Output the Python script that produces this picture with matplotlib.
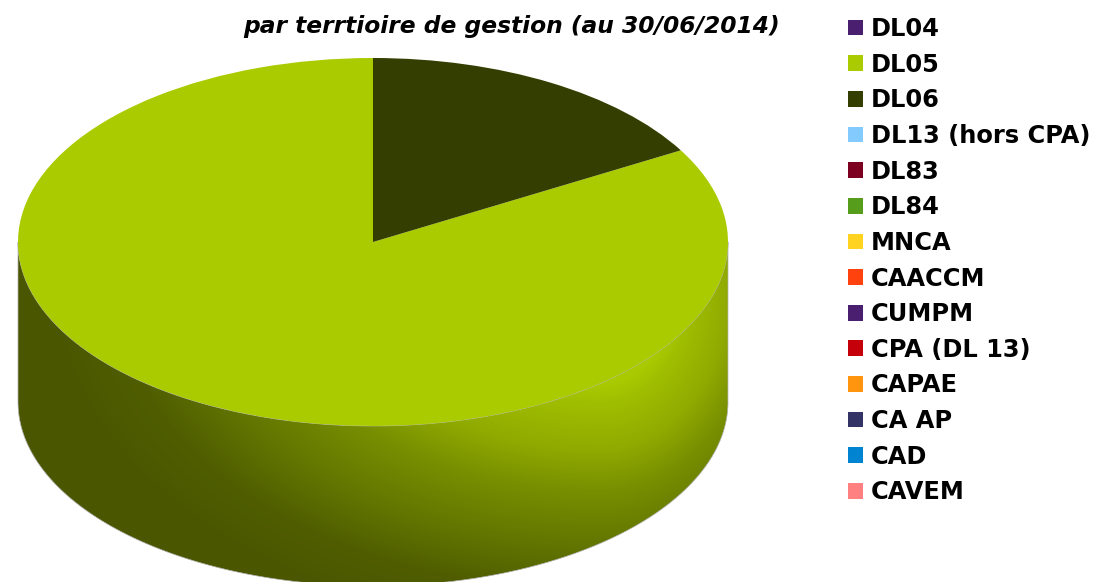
import numpy as np
from matplotlib import pyplot as plt
from matplotlib.patches import Patch, PathPatch
from matplotlib.path import Path

W, H = 1097, 582

title = "par terrtioire de gestion (au 30/06/2014)"
categories = ["DL04", "DL05", "DL06", "DL13 (hors CPA)", "DL83", "DL84", "MNCA",
              "CAACCM", "CUMPM", "CPA (DL 13)", "CAPAE", "CA AP", "CAD", "CAVEM"]
values = [0, 83.3, 16.7, 0, 0, 0, 0, 0, 0, 0, 0, 0, 0, 0]
colors = ["#4b1f6f", "#aacb00", "#333e00", "#83caff", "#7e0021", "#579d1c", "#ffd320",
          "#ff420e", "#4b1f6f", "#c5000b", "#ff950e", "#333366", "#0084d1", "#ff8080"]

# pie geometry in pixels
cx, cy, rx, ry = 373, 242, 355, 184
depth = 160 / ry

fig = plt.figure(figsize=(W / 100, H / 100), dpi=100)
ax = fig.add_axes([0, 0, 1, 1])

# top of the pie
wedges, _ = ax.pie(values, colors=colors, startangle=90, counterclock=True,
                   radius=1, wedgeprops={"linewidth": 0})

# side wall: lower half of the ellipse pushed down by depth
t = np.linspace(np.pi, 2 * np.pi, 200)
top = np.column_stack([np.cos(t), np.sin(t)])
bot = np.column_stack([np.cos(t[::-1]), np.sin(t[::-1]) - depth])
wall_path = Path(np.vstack([top, bot, top[:1]]))

xmin, xmax = -cx / rx, (W - cx) / rx
ymin, ymax = (cy - H) / ry, cy / ry

# light on the lower right of the wall, falls off faster downwards and to the right
px, py = np.meshgrid(np.arange(W), np.arange(H))
dx = px - 600.0
dx[dx > 0] *= 2
dist = np.hypot(dx, (py - 290) * 1.6)
stops = [0, 150, 180, 256, 320, 400, 480, 560]
red = [170, 169, 160, 144, 120, 100, 80, 74]
green = [203, 202, 190, 170, 143, 120, 94, 86]
shade = np.dstack([np.interp(dist, stops, red), np.interp(dist, stops, green),
                   np.zeros_like(dist)]) / 255
wall = ax.imshow(shade, extent=(xmin, xmax, ymin, ymax), origin="upper",
                 aspect="auto", zorder=0, interpolation="bilinear")
wall_patch = PathPatch(wall_path, transform=ax.transData, fc="none", ec="#b0b0b0", lw=0.5, zorder=0.5)
ax.add_patch(wall_patch)
wall.set_clip_path(wall_patch)

ax.set_aspect("auto")
ax.set_xlim(xmin, xmax)
ax.set_ylim(ymin, ymax)
ax.axis("off")

fig.text(511.5 / W, 1 - 33 / H, title, ha="center", va="baseline", fontsize=16.85,
         fontweight="bold", fontstyle="italic", family="DejaVu Sans")

handles = [Patch(fc=c, ec="none") for c in colors]
ax.legend(handles, categories, loc="upper left", bbox_to_anchor=(848 / W, 1 - 17 / H),
          frameon=False, borderaxespad=0, borderpad=0,
          prop={"family": "DejaVu Sans", "weight": "bold", "size": 17.4},
          handlelength=0.62, handleheight=0.62, handletextpad=0.33, labelspacing=0.482)

plt.savefig("out.png", dpi=100)
